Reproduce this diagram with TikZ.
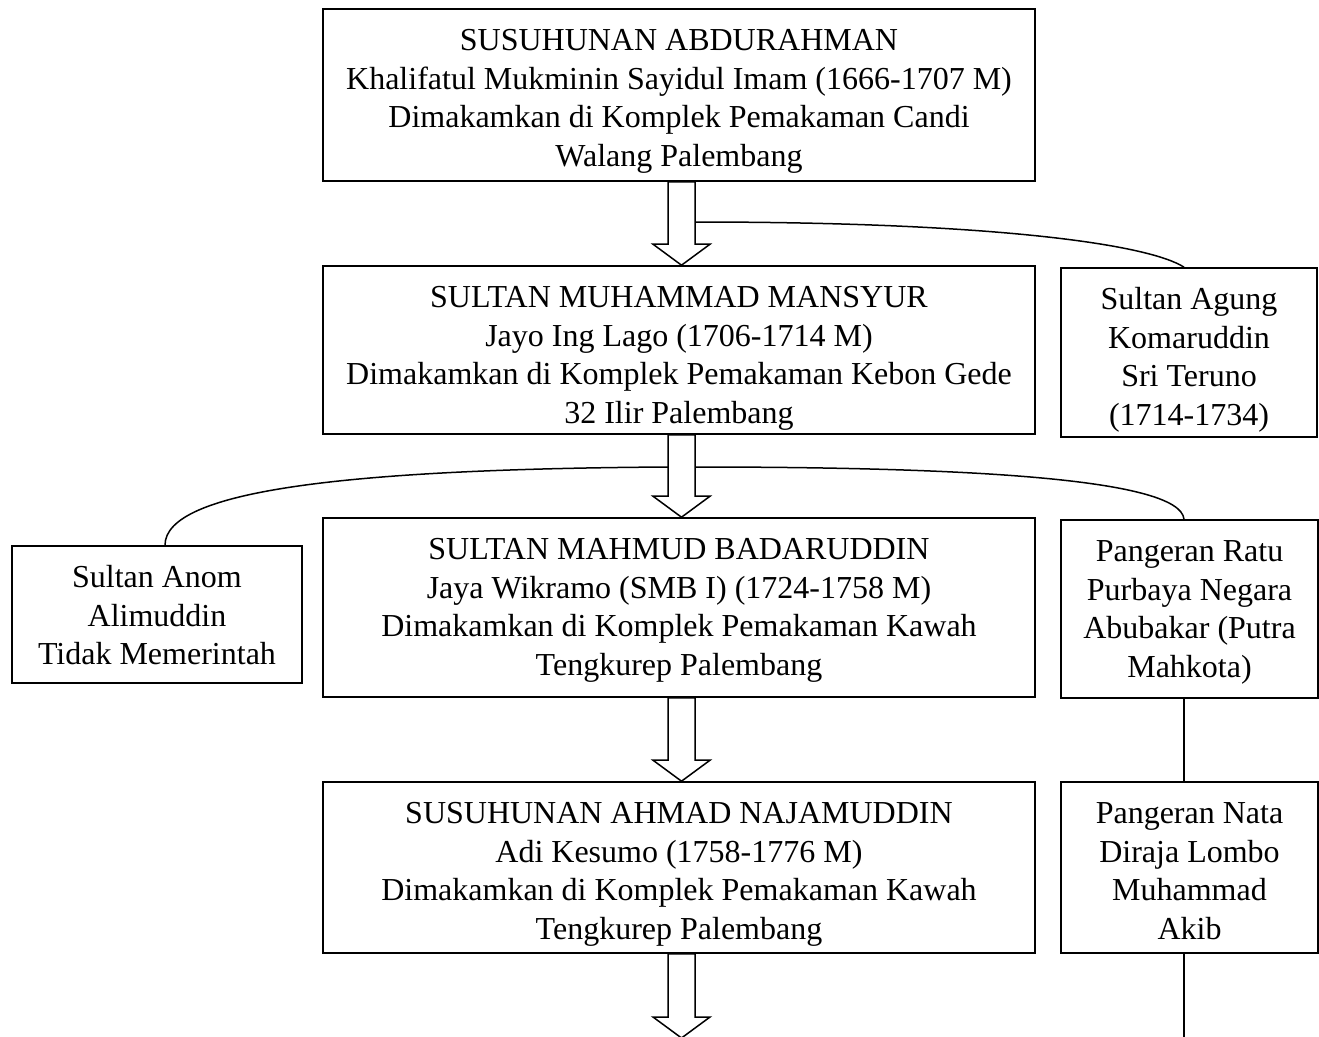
\documentclass[tikz,border=0pt]{standalone}
\usepackage{fontspec}
\setmainfont{Liberation Serif}
\usetikzlibrary{calc}
\newcommand{\boxtext}[3]{\parbox[c][#2][t]{#1}{\centering\rule{0pt}{41.5pt}#3\par}}
\tikzset{
  box/.style={draw, line width=1.6pt, rectangle, inner sep=0pt,
    font=\fontsize{32}{38.5}\selectfont},
  harrow/.style={draw, line width=1.5pt, fill=white, line join=miter},
  link/.style={draw, line width=1.5pt},
}
\newcommand{\hollowarrow}[2]{%
  \draw[harrow] ($(#1)+(-13.5,0)$) -- ($(#2)+(-13.5,-21)$) -- ($(#2)+(-28.5,-21)$)
    -- (#2) -- ($(#2)+(28.5,-21)$) -- ($(#2)+(13.5,-21)$) -- ($(#1)+(13.5,0)$) -- cycle;}
\begin{document}
\begin{tikzpicture}[x=1pt, y=-1pt]
\useasboundingbox (0,0) rectangle (1319,1036);

\node[box] (b1) at (679,95)
  {\boxtext{712pt}{172pt}{SUSUHUNAN ABDURAHMAN\\Khalifatul Mukminin Sayidul Imam (1666-1707 M)\\Dimakamkan di Komplek Pemakaman Candi\\Walang Palembang}};
\node[box] (b2) at (679,350)
  {\boxtext{712pt}{168pt}{SULTAN MUHAMMAD MANSYUR\\Jayo Ing Lago (1706-1714 M)\\Dimakamkan di Komplek Pemakaman Kebon Gede\\32 Ilir Palembang}};
\node[box] (b3) at (679,607.5)
  {\boxtext{712pt}{179pt}{SULTAN MAHMUD BADARUDDIN\\Jaya Wikramo (SMB I) (1724-1758 M)\\Dimakamkan di Komplek Pemakaman Kawah\\Tengkurep Palembang}};
\node[box] (b4) at (679,867.5)
  {\boxtext{712pt}{171pt}{SUSUHUNAN AHMAD NAJAMUDDIN\\Adi Kesumo (1758-1776 M)\\Dimakamkan di Komplek Pemakaman Kawah\\Tengkurep Palembang}};

\node[box] (agung) at (1189,352.5)
  {\boxtext{256pt}{169pt}{Sultan Agung\\Komaruddin\\Sri Teruno\\(1714-1734)}};
\node[box] (anom) at (157,614.5)
  {\boxtext{290pt}{137pt}{Sultan Anom\\Alimuddin\\Tidak Memerintah}};
\node[box] (ratu) at (1189.5,609)
  {\boxtext{257pt}{178pt}{Pangeran Ratu\\Purbaya Negara\\Abubakar (Putra\\Mahkota)}};
\node[box] (nata) at (1189.5,867.5)
  {\boxtext{257pt}{171pt}{Pangeran Nata\\Diraja Lombo\\Muhammad\\Akib}};

\coordinate (ax) at (681.5,0);
\coordinate (vx) at (1184,0);
\coordinate (c1s) at (695,222);
\coordinate (c2r) at (695,467);
\coordinate (c2l) at (668,467);
\coordinate (endR) at (1184,1040);
\coordinate (tip4) at (681.5,1038);

% curved links
\draw[link] (c1s) .. controls (1000,222) and (1150,245) .. (agung.north -| vx);
\draw[link] (c2r) .. controls (950,467) and (1180,477) .. (ratu.north -| vx);
\draw[link] (c2l) .. controls (350,469) and (165,490) .. ($(anom.north)+(8,0)$);

% vertical links on the right
\draw[link] (ratu.south -| vx) -- (nata.north -| vx);
\draw[link] (nata.south -| vx) -- (endR);

% hollow arrows
\coordinate (a1s) at (b1.south -| ax); \coordinate (a1t) at (b2.north -| ax);
\coordinate (a2s) at (b2.south -| ax); \coordinate (a2t) at (b3.north -| ax);
\coordinate (a3s) at (b3.south -| ax); \coordinate (a3t) at (b4.north -| ax);
\coordinate (a4s) at (b4.south -| ax);
\hollowarrow{a1s}{a1t}
\hollowarrow{a2s}{a2t}
\hollowarrow{a3s}{a3t}
\hollowarrow{a4s}{tip4}
\end{tikzpicture}
\end{document}
